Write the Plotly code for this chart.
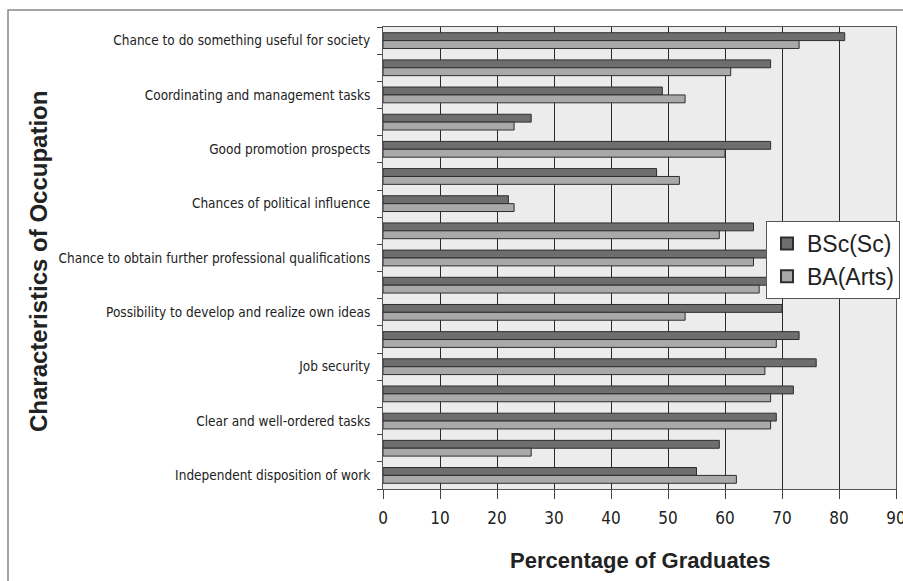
import plotly.graph_objects as go

# Categories from top to bottom (only every other one is labelled in the source chart)
categories = [
    "Chance to do something useful for society",
    "",
    "Coordinating and management tasks",
    "",
    "Good promotion prospects",
    "",
    "Chances of political influence",
    "",
    "Chance to obtain further professional qualifications",
    "",
    "Possibility to develop and realize own ideas",
    "",
    "Job security",
    "",
    "Clear and well-ordered tasks",
    "",
    "Independent disposition of work",
]
bsc_values = [81, 68, 49, 26, 68, 48, 22, 65, 72, 70, 70, 73, 76, 72, 69, 59, 55]
ba_values = [73, 61, 53, 23, 60, 52, 23, 59, 65, 66, 53, 69, 67, 68, 68, 26, 62]
series_names = ["BSc(Sc)", "BA(Arts)"]
x_ticks = [0, 10, 20, 30, 40, 50, 60, 70, 80, 90]

positions = list(range(len(categories)))

NARROW = "DejaVu Sans Condensed, Liberation Sans Narrow, Arial Narrow, sans-serif"
SANS = "Liberation Sans, Arial, sans-serif"

fig = go.Figure()
fig.add_trace(go.Bar(
    y=positions, x=bsc_values, orientation="h", name=series_names[0],
    marker=dict(color="#6e6e6e", line=dict(color="#2e2e2e", width=1)),
))
fig.add_trace(go.Bar(
    y=positions, x=ba_values, orientation="h", name=series_names[1],
    marker=dict(color="#a9a9a9", line=dict(color="#2e2e2e", width=1)),
))

L, R, T, B = 383, 7, 27, 92
W, H = 903, 581
pw, ph = W - L - R, H - T - B

def px_to_paper_x(px):
    return (px - L) / pw

def px_to_paper_y(py):
    return (H - B - py) / ph

fig.update_layout(
    width=W, height=H,
    margin=dict(l=L, r=R, t=T, b=B, pad=0, autoexpand=False),
    paper_bgcolor="white",
    plot_bgcolor="#ececec",
    barmode="group",
    bargap=0.42,
    bargroupgap=0,
    showlegend=True,
    legend=dict(
        x=px_to_paper_x(766), y=px_to_paper_y(221), xanchor="left", yanchor="top",
        bgcolor="white", bordercolor="#555555", borderwidth=1,
        font=dict(family=SANS, size=23, color="#222222"),
        itemsizing="constant", tracegroupgap=0,
    ),
    xaxis=dict(
        range=[0, 90], tickmode="array", tickvals=x_ticks,
        ticktext=[str(v) for v in x_ticks],
        showgrid=True, gridcolor="#2a2a2a", gridwidth=1,
        zeroline=False, automargin=False, ticklabeloverflow="allow",
        showline=True, linecolor="#555555", linewidth=1, mirror=True,
        ticks="outside", ticklen=9, tickcolor="#444444",
        ticklabelstandoff=5,
        tickfont=dict(family=NARROW, size=17, color="#222222"),
    ),
    yaxis=dict(
        range=[len(categories) - 0.5, -0.5],
        tickmode="array", tickvals=positions, ticktext=categories,
        ticks="", showgrid=False, zeroline=False, automargin=False,
        showline=True, linecolor="#555555", linewidth=1, mirror=True,
        tickfont=dict(family=NARROW, size=13.5, color="#222222"),
        ticklabelstandoff=9,
        minor=dict(ticks="outside", tick0=0.5, dtick=1, ticklen=5,
                   tickcolor="#444444", showgrid=False),
    ),
    annotations=[
        dict(text="<b>Percentage of Graduates</b>", xref="paper", yref="paper",
             x=0.5, y=px_to_paper_y(560), xanchor="center", yanchor="middle",
             showarrow=False, font=dict(family=SANS, size=22, color="#222222")),
        dict(text="<b>Characteristics of Occupation</b>", xref="paper", yref="paper",
             x=px_to_paper_x(38), y=px_to_paper_y(262), xanchor="center", yanchor="middle",
             textangle=-90, showarrow=False,
             font=dict(family=SANS, size=24, color="#222222")),
    ],
    shapes=[
        dict(type="rect", xref="paper", yref="paper",
             x0=px_to_paper_x(8), x1=px_to_paper_x(960),
             y0=px_to_paper_y(640), y1=px_to_paper_y(10),
             line=dict(color="#888888", width=1.5), fillcolor="rgba(0,0,0,0)",
             layer="below"),
    ],
)

fig.write_html(
    "out.html",
    config={"displayModeBar": False},
    post_script="document.body.style.margin='0';document.body.style.overflow='hidden';",
)
